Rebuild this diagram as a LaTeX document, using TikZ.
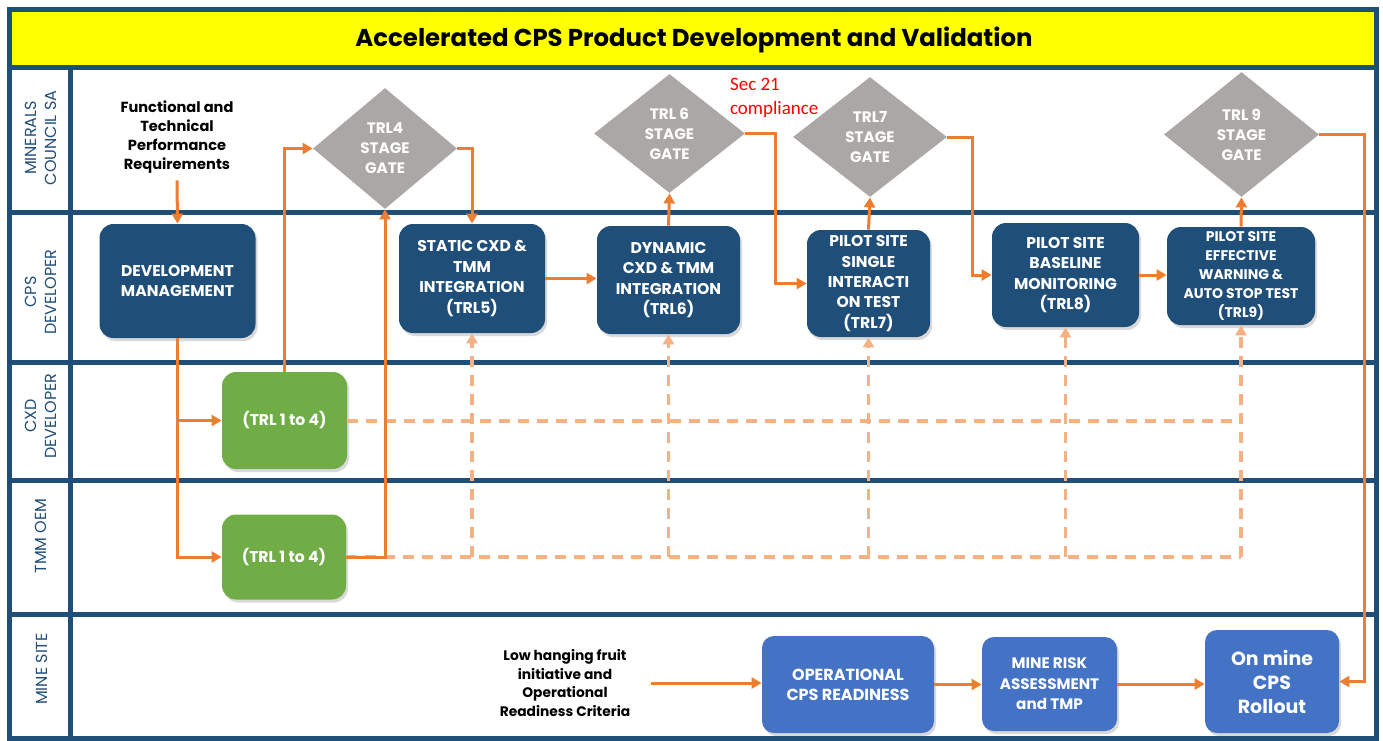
\documentclass[tikz,border=0pt]{standalone}
\usepackage{fontspec}
\setmainfont{Poppins}
\newfontfamily\notefont{Carlito}
\usetikzlibrary{shapes.geometric, arrows.meta, shadows}

\definecolor{navy}{HTML}{1F4E79}
\definecolor{siteblue}{HTML}{4472C4}
\definecolor{leafgreen}{HTML}{70AD47}
\definecolor{gategray}{HTML}{AAA7A5}
\definecolor{flowor}{HTML}{ED7D31}
\definecolor{feedor}{HTML}{F4B183}
\definecolor{banner}{HTML}{FFFF00}

\tikzset{
  devbox/.style={rectangle, rounded corners=7pt, fill=navy, text=white, align=center,
    inner sep=1pt, font=\fontsize{7.8}{10.2}\selectfont\bfseries,
    drop shadow={shadow xshift=1pt, shadow yshift=-1.5pt, opacity=0.3}},
  greenbox/.style={devbox, fill=leafgreen},
  sitebox/.style={devbox, fill=siteblue, rounded corners=6pt},
  gate/.style={diamond, fill=gategray, text=white, align=center, inner sep=0pt,
    font=\fontsize{7.6}{10}\selectfont\bfseries},
  lanelabel/.style={rotate=90, text=navy, align=center, font=\fontsize{8}{10}\selectfont},
  flow/.style={draw=flowor, line width=1.5pt, -{Triangle[length=5pt, width=5.5pt]}},
  feed/.style={draw=feedor, line width=2pt, dash pattern=on 5.5pt off 4pt},
  lane/.style={draw=navy, line width=2.5pt}
}

\begin{document}
\begin{tikzpicture}[x=0.5pt, y=-0.5pt]
  \useasboundingbox (0,0) rectangle (1383,740);

  % Title
  \fill[banner] (12,11) rectangle (1374,66);
  \node[font=\fontsize{12.2}{14}\selectfont\bfseries] (title) at (694,40)
    {Accelerated CPS Product Development and Validation};

  % Lanes
  \foreach \y in {67,212,362,480,614}
    \draw[lane] (10,\y) -- (1376,\y);
  \draw[lane] (70,67) -- (70,738);
  \draw[lane] (9,9) rectangle (1376,738);

  \node[lanelabel] (laneMC)  at (41,138) {MINERALS\\COUNCIL SA};
  \node[lanelabel] (laneCPS) at (41,292) {CPS\\DEVELOPER};
  \node[lanelabel] (laneCXD) at (41,416) {CXD\\DEVELOPER};
  \node[lanelabel] (laneTMM) at (41,536) {TMM OEM};
  \node[lanelabel] (laneMS)  at (42,669) {MINE SITE};

  % Minerals Council
  \node[align=center, font=\fontsize{7.3}{9.5}\selectfont\bfseries] (funcreq) at (177,137)
    {Functional and\\Technical\\Performance\\Requirements};
  \node[gate, minimum width=72pt, minimum height=60.5pt] (gate4) at (385,148.5)
    {TRL4\\STAGE\\GATE};
  \node[gate, minimum width=75.5pt, minimum height=59.5pt] (gate6) at (669.5,133.5)
    {TRL 6\\STAGE\\GATE};
  \node[gate, minimum width=77pt, minimum height=60pt] (gate7) at (870,137)
    {TRL7\\STAGE\\GATE};
  \node[gate, minimum width=77.5pt, minimum height=62.5pt] (gate9) at (1241.5,134.5)
    {TRL 9\\STAGE\\GATE};
  \node[anchor=west, align=left, text=red, font=\notefont\fontsize{9.5}{12}\selectfont]
    (sec21) at (723,98) {Sec 21\\compliance};

  % CPS developer
  \node[devbox, minimum width=78pt, minimum height=57pt] (devmgmt) at (177.5,281)
    {DEVELOPMENT\\MANAGEMENT};
  \node[devbox, minimum width=73pt, minimum height=54.5pt] (static) at (472,278.5)
    {STATIC CXD \&\\TMM\\INTEGRATION\\(TRL5)};
  \node[devbox, minimum width=71.5pt, minimum height=54pt] (dynamic) at (668.5,280)
    {DYNAMIC\\CXD \& TMM\\INTEGRATION\\(TRL6)};
  \node[devbox, minimum width=61.5pt, minimum height=53.5pt] (pilot7) at (868.5,283.5)
    {PILOT SITE\\SINGLE\\INTERACTI\\ON TEST\\(TRL7)};
  \node[devbox, minimum width=73.5pt, minimum height=52pt] (pilot8) at (1065.5,275)
    {PILOT SITE\\BASELINE\\MONITORING\\(TRL8)};
  \node[devbox, minimum width=74pt, minimum height=49pt, font=\fontsize{7}{9.5}\selectfont\bfseries]
    (pilot9) at (1241,276) {PILOT SITE\\EFFECTIVE\\WARNING \&\\AUTO STOP TEST\\(TRL9)};

  % CXD developer and TMM OEM
  \node[greenbox, minimum width=62.5pt, minimum height=48.5pt] (cxdbox) at (284.5,420.5)
    {(TRL 1 to 4)};
  \node[greenbox, minimum width=62pt, minimum height=42.5pt] (tmmbox) at (284,557)
    {(TRL 1 to 4)};

  % Mine site
  \node[align=center, font=\fontsize{6.9}{9.2}\selectfont\bfseries] (lowfruit) at (565,683)
    {Low hanging fruit\\initiative and\\Operational\\Readiness Criteria};
  \node[sitebox, minimum width=86pt, minimum height=48.5pt, font=\fontsize{8}{10}\selectfont\bfseries]
    (opready) at (848,684.5) {OPERATIONAL\\CPS READINESS};
  \node[sitebox, minimum width=67.5pt, minimum height=47pt, font=\fontsize{7.6}{10.2}\selectfont\bfseries]
    (riskassess) at (1049.5,684) {MINE RISK\\ASSESSMENT\\and TMP};
  \node[sitebox, minimum width=67pt, minimum height=51.5pt, font=\fontsize{9.5}{12}\selectfont\bfseries]
    (rollout) at (1272,681.5) {On mine\\CPS\\Rollout};

  % Dashed feeds from component developers
  \draw[feed] (cxdbox.east) -- (cxdbox.east -| pilot9.south);
  \draw[feed] (tmmbox.east) -- (tmmbox.east -| pilot9.south);
  \foreach \n in {static, dynamic, pilot7, pilot8, pilot9}
    \draw[feed, line width=1.6pt, -{Triangle[length=5pt, width=5.5pt]}]
      (\n.south |- tmmbox.east) -- (\n.south);

  % Main flow
  \draw[flow] (funcreq.south) -- (devmgmt.north);
  \draw[flow] (devmgmt.south) |- (tmmbox.west);
  \draw[flow] (devmgmt.south |- cxdbox.west) -- (cxdbox.west);
  \draw[flow] (cxdbox.north) |- (gate4.west);
  \draw[flow] (tmmbox.east) -| (gate4.south);
  \draw[flow] (gate4.east) -| (static.north);
  \draw[flow] (static.east) -- (static.east -| dynamic.west);
  \draw[flow] (dynamic.north) -- (gate6.south);
  \draw[flow] (gate6.east) -- ++(30,0) |- (pilot7.west);
  \draw[flow] (pilot7.north) -- (gate7.south);
  \draw[flow] (gate7.east) -- ++(25,0) |- (pilot8.west);
  \draw[flow] (pilot8.east) -- (pilot8.east -| pilot9.west);
  \draw[flow] (pilot9.north) -- (gate9.south);
  \draw[flow] (gate9.east) -- ++(45,0) |- (rollout.east);
  \draw[flow, shorten <=7pt] (lowfruit.east) -- (lowfruit.east -| opready.west);
  \draw[flow] (opready.east) -- (opready.east -| riskassess.west);
  \draw[flow] (riskassess.east) -- (riskassess.east -| rollout.west);
\end{tikzpicture}
\end{document}
